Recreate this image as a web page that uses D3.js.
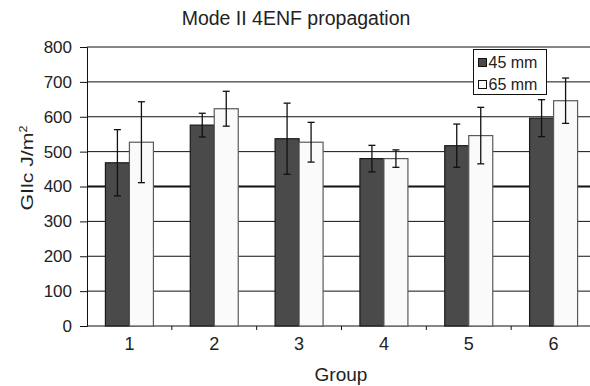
<!DOCTYPE html>
<html>
<head>
<meta charset="utf-8">
<script src="https://cdn.jsdelivr.net/npm/d3@7"></script>
<style>
  html, body { margin: 0; padding: 0; background: #fff; }
  svg { display: block; font-family: "Liberation Sans", Arial, sans-serif; }
</style>
</head>
<body>
<svg id="chart" width="590" height="386"></svg>
<script>
// Critical strain energy release rate by group, two specimen lengths
const groups = ["1", "2", "3", "4", "5", "6"];
const seriesNames = ["45 mm", "65 mm"];
const values45 = [468, 576, 537, 480, 517, 596];
const errors45 = [95, 34, 102, 38, 62, 53];
const values65 = [527, 623, 527, 480, 546, 646];
const errors65 = [116, 50, 57, 25, 81, 65];
const yTicks = [0, 100, 200, 300, 400, 500, 600, 700, 800];

const svg = d3.select("#chart");
const margin = { left: 87, right: 596, top: 47, bottom: 326 };

const x = d3.scaleBand().domain(groups).range([margin.left, margin.right]).padding(0);
const y = d3.scaleLinear().domain([0, 800]).range([margin.bottom, margin.top]);
const barW = 24;
const xs = d3.scaleBand().domain(seriesNames).range([-barW, barW]).padding(0);

const fills = { "45 mm": "#4a4a4a", "65 mm": "#fafafa" };
const strokes = { "45 mm": "#1a1a1a", "65 mm": "#5a5a5a" };

// Gridlines (the 400 line is drawn heavier)
svg.append("g").selectAll("line").data(yTicks.filter(d => d > 0)).join("line")
  .attr("x1", margin.left).attr("x2", margin.right)
  .attr("y1", d => y(d)).attr("y2", d => y(d))
  .attr("stroke", "#111")
  .attr("stroke-width", d => d === 400 ? 2 : 1);

// Y axis
const yAxis = svg.append("g").attr("transform", `translate(${margin.left},0)`)
  .call(d3.axisLeft(y).tickValues(yTicks).tickSize(7).tickPadding(8));
yAxis.select(".domain").attr("stroke", "#111");
yAxis.selectAll(".tick line").attr("stroke", "#111");
yAxis.selectAll("text").attr("font-size", 17).attr("fill", "#222")
  .attr("font-family", "Liberation Sans, Arial, sans-serif");

// X axis with ticks between categories
const xAxisG = svg.append("g").attr("transform", `translate(0,${margin.bottom})`);
xAxisG.append("line").attr("x1", margin.left).attr("x2", margin.right)
  .attr("y1", 0).attr("y2", 0).attr("stroke", "#111");
xAxisG.selectAll("line.tk").data(groups.slice(1)).join("line").attr("class", "tk")
  .attr("x1", d => x(d)).attr("x2", d => x(d))
  .attr("y1", 0).attr("y2", 4).attr("stroke", "#111");
xAxisG.selectAll("text").data(groups).join("text")
  .attr("x", d => x(d) + x.bandwidth() / 2).attr("y", 24)
  .attr("text-anchor", "middle").attr("font-size", 18).attr("fill", "#222")
  .text(d => d);

// Bars and error bars
const rows = [];
groups.forEach((g, i) => {
  rows.push({ g, s: "45 mm", v: values45[i], e: errors45[i] });
  rows.push({ g, s: "65 mm", v: values65[i], e: errors65[i] });
});
const cx = d => x(d.g) + x.bandwidth() / 2 + xs(d.s);

svg.append("g").selectAll("rect").data(rows).join("rect")
  .attr("x", d => cx(d)).attr("width", xs.bandwidth())
  .attr("y", d => y(d.v)).attr("height", d => y(0) - y(d.v))
  .attr("fill", d => fills[d.s]).attr("stroke", d => strokes[d.s]).attr("stroke-width", 1.2);

const eb = svg.append("g").attr("stroke", "#111").attr("stroke-width", 1.3);
rows.forEach(d => {
  const mx = cx(d) + xs.bandwidth() / 2;
  eb.append("line").attr("x1", mx).attr("x2", mx).attr("y1", y(d.v + d.e)).attr("y2", y(d.v - d.e));
  eb.append("line").attr("x1", mx - 3.5).attr("x2", mx + 3.5).attr("y1", y(d.v + d.e)).attr("y2", y(d.v + d.e));
  eb.append("line").attr("x1", mx - 3.5).attr("x2", mx + 3.5).attr("y1", y(d.v - d.e)).attr("y2", y(d.v - d.e));
});

// Legend
const lg = svg.append("g").attr("transform", "translate(473.5,49.5)");
lg.append("rect").attr("width", 73).attr("height", 45).attr("fill", "#fff").attr("stroke", "#111");
seriesNames.forEach((s, i) => {
  const row = lg.append("g").attr("transform", `translate(5,${9 + i * 22})`);
  row.append("rect").attr("width", 8).attr("height", 8)
    .attr("fill", fills[s]).attr("stroke", "#111");
  row.append("text").attr("x", 10).attr("y", 9).attr("font-size", 16).attr("fill", "#222").text(s);
});

// Titles
svg.append("text").attr("x", 296).attr("y", 25).attr("text-anchor", "middle")
  .attr("font-size", 19.5).attr("fill", "#222").text("Mode II 4ENF propagation");
svg.append("text").attr("x", 341).attr("y", 381).attr("text-anchor", "middle")
  .attr("font-size", 19).attr("fill", "#222").text("Group");
const yt = svg.append("text").attr("transform", "translate(33,168) rotate(-90) scale(1.25,1)")
  .attr("text-anchor", "middle").attr("font-size", 17).attr("fill", "#222");
yt.append("tspan").text("GIlc J/m");
yt.append("tspan").attr("font-size", 10).attr("dy", -6).text("2");
</script>
</body>
</html>
